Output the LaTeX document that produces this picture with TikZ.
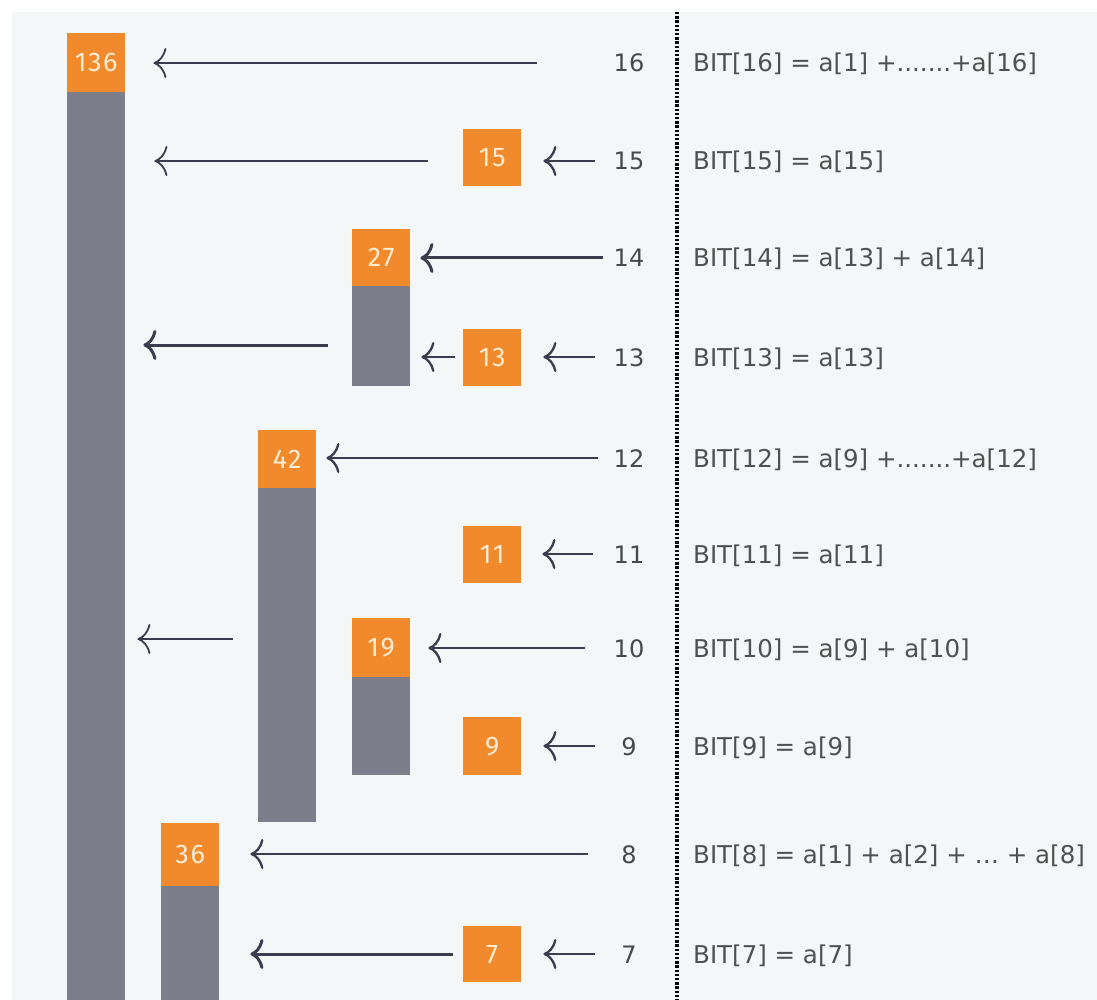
\documentclass[tikz,border=0pt]{standalone}
\usepackage{fontspec}
\setmainfont{DejaVu Sans}
\newfontfamily\boxfont[LetterSpace=6]{Fira Sans}
\usetikzlibrary{arrows.meta,calc}
\definecolor{bgc}{HTML}{F4F7F7}
\definecolor{orng}{HTML}{F08A2C}
\definecolor{barc}{HTML}{7E7D8C}
\definecolor{arrc}{HTML}{3A3D4E}
\definecolor{numc}{HTML}{484848}
\definecolor{bitc}{HTML}{505050}
\definecolor{boxtxt}{HTML}{FDEBD2}
\begin{document}
\begin{tikzpicture}[x=1pt,y=-1pt,
  valbox/.style={fill=orng, minimum width=58pt, minimum height=58pt, inner sep=0pt,
    text=boxtxt, font=\boxfont\fontsize{27}{27}\selectfont, anchor=north west},
  barbox/.style={fill=barc, minimum width=58pt, inner sep=0pt, anchor=north west},
  numlab/.style={text=numc, font=\fontsize{24}{24}\selectfont, inner sep=0pt, anchor=base},
  bitlab/.style={text=bitc, font=\fontsize{24.5}{24.5}\selectfont, inner sep=0pt, anchor=base west},
  arr/.style={draw=arrc, line width=2.3pt, -{Computer Modern Rightarrow[length=13pt,width=30pt]}},
  thinarr/.style={arr, line width=1.8pt},
  thickarr/.style={arr, line width=3pt},
  dotline/.style={draw=black, line width=3.4pt, dash pattern=on 2.4pt off 1.8pt}
]
\useasboundingbox (0,0) rectangle (1097,1000);
\fill[white] (0,0) rectangle (1097,1000);
\fill[bgc] (12,12) rectangle (1097,1000);

% bars and boxes
\node[barbox, minimum height=908pt] (bar136) at (67,92) {};
\node[valbox, minimum height=59pt] (b136) at (67,33) {136};
\node[valbox, minimum height=57pt] (b15) at (463,129) {15};
\node[barbox, minimum height=100pt] (bar27) at (352,286) {};
\node[valbox, minimum height=57pt] (b27) at (352,229) {27};
\node[valbox, minimum height=57pt] (b13) at (463,329) {13};
\node[barbox, minimum height=334pt] (bar42) at (258,488) {};
\node[valbox, minimum height=58pt] (b42) at (258,430) {42};
\node[valbox, minimum height=57pt] (b11) at (463,526) {11};
\node[barbox, minimum height=98pt] (bar19) at (352,677) {};
\node[valbox, minimum height=59pt] (b19) at (352,618) {19};
\node[valbox, minimum height=58pt] (b9) at (463,717) {9};
\node[barbox, minimum height=114pt] (bar36) at (161,886) {};
\node[valbox, minimum height=63pt] (b36) at (161,823) {36};
\node[valbox, minimum height=56pt] (b7) at (463,926) {7};

% index labels
\node[numlab] (n16) at (629,72) {16};
\node[numlab] (n15) at (629,170) {15};
\node[numlab] (n14) at (629,267) {14};
\node[numlab] (n13) at (629,366) {13};
\node[numlab] (n12) at (629,467) {12};
\node[numlab] (n11) at (629,563) {11};
\node[numlab] (n10) at (629,657) {10};
\node[numlab] (n9) at (629,755) {9};
\node[numlab] (n8) at (629,863) {8};
\node[numlab] (n7) at (629,963) {7};

% formulas
\node[bitlab] (f16) at (693,72) {BIT[16] = a[1] +.......+a[16]};
\node[bitlab] (f15) at (693,170) {BIT[15] = a[15]};
\node[bitlab] (f14) at (693,267) {BIT[14] = a[13] + a[14]};
\node[bitlab] (f13) at (693,366) {BIT[13] = a[13]};
\node[bitlab] (f12) at (693,467) {BIT[12] = a[9] +.......+a[12]};
\node[bitlab] (f11) at (693,563) {BIT[11] = a[11]};
\node[bitlab] (f10) at (693,657) {BIT[10] = a[9] + a[10]};
\node[bitlab] (f9) at (693,755) {BIT[9] = a[9]};
\node[bitlab] (f8) at (693,863) {BIT[8] = a[1] + a[2] + … + a[8]};
\node[bitlab] (f7) at (693,963) {BIT[7] = a[7]};

% dotted separator
\coordinate (dtop) at (677,12);
\coordinate (dbot) at (677,1000);
\draw[dotline] (dtop) -- (dbot);

% arrow tails
\coordinate (t16) at (537,63);
\coordinate (t15a) at (428,161);
\coordinate (t15b) at (595,161);
\coordinate (t14) at (603,258);
\coordinate (t13a) at (328,345);
\coordinate (t13b) at (455,357);
\coordinate (t13c) at (595,357);
\coordinate (t12) at (598,458);
\coordinate (t11) at (593,554);
\coordinate (t10a) at (233,639);
\coordinate (t10b) at (585,648);
\coordinate (t9) at (595,746);
\coordinate (t8) at (588,854);
\coordinate (t7a) at (453,954);
\coordinate (t7b) at (595,954);

% arrows
\draw[thinarr] (t16) -- ($(b136.east|-t16)+(28,0)$);
\draw[thinarr] (t15a) -- ($(bar136.east|-t15a)+(29,0)$);
\draw[arr] (t15b) -- ($(b15.east|-t15b)+(22,0)$);
\draw[thickarr] (t14) -- ($(b27.east|-t14)+(10,0)$);
\draw[thickarr] (t13a) -- ($(bar136.east|-t13a)+(18,0)$);
\draw[arr] (t13b) -- ($(bar27.east|-t13b)+(11,0)$);
\draw[arr] (t13c) -- ($(b13.east|-t13c)+(22,0)$);
\draw[arr] (t12) -- ($(b42.east|-t12)+(10,0)$);
\draw[arr] (t11) -- ($(b11.east|-t11)+(21,0)$);
\draw[thinarr] (t10a) -- ($(bar136.east|-t10a)+(12,0)$);
\draw[arr] (t10b) -- ($(b19.east|-t10b)+(18,0)$);
\draw[arr] (t9) -- ($(b9.east|-t9)+(22,0)$);
\draw[arr] (t8) -- ($(b36.east|-t8)+(31,0)$);
\draw[thickarr] (t7a) -- ($(bar36.east|-t7a)+(31,0)$);
\draw[arr] (t7b) -- ($(b7.east|-t7b)+(22,0)$);
\end{tikzpicture}
\end{document}
